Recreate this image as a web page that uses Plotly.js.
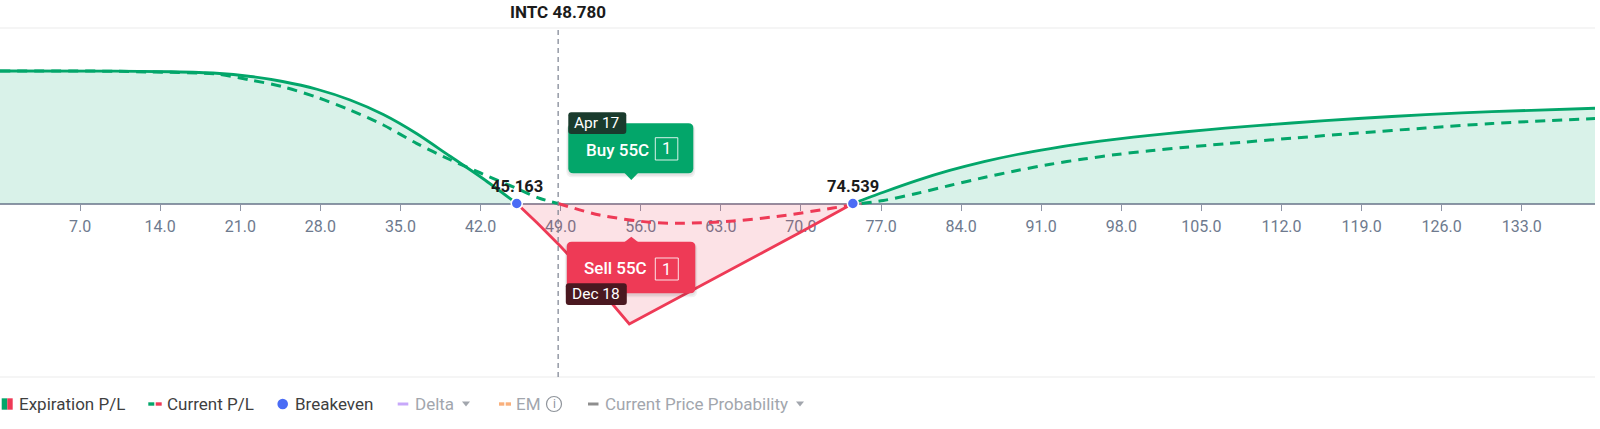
<!DOCTYPE html>
<html>
<head>
<meta charset="utf-8">
<script src="https://cdn.plot.ly/plotly-3.0.1.min.js"></script>
<style>
html,body{margin:0;padding:0;background:#ffffff;}
#chart{width:1600px;height:429px;}
</style>
</head>
<body>
<div id="chart"></div>
<script>
// ---------------- data ----------------
const ticker = 'INTC';
const currentPrice = 48.78;
const tickValues = [7, 14, 21, 28, 35, 42, 49, 56, 63, 70, 77, 84, 91, 98, 105, 112, 119, 126, 133];
const breakevens = [45.163, 74.539];

const legAction = ['Buy', 'Sell'];
const legStrike = [55, 55];
const legType = ['C', 'C'];
const legQty = [1, 1];
const legExpiry = ['Apr 17', 'Dec 18'];

// Expiration P/L (solid)
const expPrice = [0, 10, 15, 18.9, 21.9, 24.7, 27.7, 30.6, 33.5, 36.4, 39.3, 42.2, 45.163,
  47, 49, 52, 55, 60, 65, 70, 74.539,
  77.2, 80.1, 83.0, 86.0, 88.9, 91.8, 94.7, 97.6, 100.5, 103.4, 107.1, 112.9, 118.7, 124.6, 130.4, 139.4];
const expPL = [265, 264.8, 263.5, 260.5, 254, 244, 228.5, 207, 178, 140, 95, 50, 0,
  -40, -86, -160, -241, -180, -118, -57, 0,
  22.6, 45.8, 66.1, 83.8, 98, 109.9, 120.1, 128.8, 136.3, 143, 150.6, 161, 170, 177.7, 183.8, 190.5];

// Current P/L (dashed)
const curPrice = [0, 10, 13.1, 18.9, 21.9, 24.7, 27.7, 30.6, 33.5, 36.4, 39.3, 41.9, 45.163, 47.2, 48.78,
  52.4, 56.8, 59.7, 64.1, 68.4, 72.8, 75.3,
  77.2, 80.1, 83.0, 86.0, 88.9, 91.8, 94.7, 97.6, 100.5, 103.4, 107.1, 112.9, 118.7, 124.6, 130.4, 139.4];
const curPL = [265, 264.5, 263, 259, 247, 233.6, 212.4, 187, 157, 120.4, 88, 62, 30, 10, 0,
  -23, -37.6, -39.6, -35, -24.4, -9, 0,
  6, 20, 36, 52, 66, 78.5, 89, 98, 105.5, 112, 119.5, 130.5, 141, 151, 160, 170];

const xMax = 139.4;
const yRange = [-347, 351];

// ---------------- styles ----------------
const GREEN = '#03a66a';
const RED = '#ee3a56';
const GREEN_FILL = 'rgba(3,166,106,0.15)';
const RED_FILL = 'rgba(238,58,86,0.15)';
const BLUE = '#4a6cf5';
const FONT = 'Roboto, "Noto Sans", Arial, sans-serif';

function splitBySign(xs, ys) {
  const runs = [];
  let cur = null;
  for (let i = 0; i < xs.length; i++) {
    const s = ys[i] > 0 ? 1 : (ys[i] < 0 ? -1 : 0);
    if (s === 0) {
      if (cur) { cur.x.push(xs[i]); cur.y.push(ys[i]); runs.push(cur); }
      cur = {sign: 0, x: [xs[i]], y: [ys[i]]};
    } else {
      if (!cur) cur = {sign: s, x: [], y: []};
      if (cur.sign === 0) cur.sign = s;
      if (cur.sign !== s) { runs.push(cur); cur = {sign: s, x: [], y: []}; }
      cur.x.push(xs[i]); cur.y.push(ys[i]);
    }
  }
  if (cur && cur.x.length > 1) runs.push(cur);
  return runs.filter(r => r.sign !== 0);
}

const traces = [];
splitBySign(expPrice, expPL).forEach(r => {
  traces.push({
    type: 'scatter', mode: 'lines', x: r.x, y: r.y,
    fill: 'tozeroy', fillcolor: r.sign > 0 ? GREEN_FILL : RED_FILL,
    line: {color: r.sign > 0 ? GREEN : RED, width: 2.8,
           shape: r.sign > 0 ? 'spline' : 'linear', smoothing: 0.8},
    hoverinfo: 'skip', showlegend: false
  });
});
splitBySign(curPrice, curPL).forEach(r => {
  traces.push({
    type: 'scatter', mode: 'lines', x: r.x, y: r.y,
    line: {color: r.sign > 0 ? GREEN : RED, width: 3, dash: '10px,7px', shape: 'spline', smoothing: 0.8},
    hoverinfo: 'skip', showlegend: false
  });
});
traces.push({
  type: 'scatter', mode: 'markers', x: breakevens, y: breakevens.map(() => 0),
  marker: {color: BLUE, size: 11, line: {color: '#ffffff', width: 1.5}},
  cliponaxis: false, hoverinfo: 'skip', showlegend: false
});

// rounded rect path (pixel coords, y up)
function rr(x0, y0, x1, y1, r) {
  return `M${x0 + r},${y1} L${x1 - r},${y1} Q${x1},${y1} ${x1},${y1 - r} L${x1},${y0 + r} Q${x1},${y0} ${x1 - r},${y0} ` +
         `L${x0 + r},${y0} Q${x0},${y0} ${x0},${y0 + r} L${x0},${y1 - r} Q${x0},${y1} ${x0 + r},${y1} Z`;
}

const shapes = [];
const annotations = [];

// frame lines
shapes.push({type: 'line', xref: 'paper', yref: 'paper', x0: 0, x1: 1, y0: 1, y1: 1, line: {color: '#ebebeb', width: 1}, layer: 'below'});
shapes.push({type: 'line', xref: 'paper', yref: 'paper', x0: 0, x1: 1, y0: 0, y1: 0, line: {color: '#ebebeb', width: 1}, layer: 'below'});
// current price line
shapes.push({type: 'line', xref: 'x', yref: 'paper', x0: currentPrice, x1: currentPrice, y0: 0, y1: 1,
  line: {color: '#7a8090', width: 1.2, dash: '5px,4px'}, layer: 'above'});

// title
annotations.push({xref: 'x', yref: 'paper', x: currentPrice, y: 1, yshift: 16, xanchor: 'center', yanchor: 'middle',
  showarrow: false, text: ticker + ' ' + currentPrice.toFixed(3),
  font: {family: FONT, size: 17, color: '#1b1b1b', weight: 700}});

// breakeven labels
breakevens.forEach(b => {
  annotations.push({xref: 'x', yref: 'y', x: b, y: 0, yshift: 17.5, xanchor: 'center', yanchor: 'middle',
    showarrow: false, text: b.toFixed(3), font: {family: FONT, size: 16.5, color: '#1b1b1b', weight: 700}});
});

// leg tooltips
function pshape(anchorX, path, fill, line) {
  return {type: 'path', xref: 'x', yref: 'y', xsizemode: 'pixel', ysizemode: 'pixel',
    xanchor: anchorX, yanchor: 0, path: path, fillcolor: fill,
    line: line || {width: 0}, layer: 'above'};
}
function pann(anchorX, dx, dy, text, size, weight) {
  return {xref: 'x', yref: 'y', x: anchorX, y: 0, xshift: dx, yshift: dy, xanchor: 'center', yanchor: 'middle',
    showarrow: false, text: text, font: {family: FONT, size: size, color: '#ffffff', weight: weight || 400}};
}
const tipStyles = [
  {box: [-61, 30.2, 64, 80.2], ptr: 'up', tag: [-61, 69.5, -3, 91.2], tagColor: '#1a3b2d', col: GREEN,
   txt: [-12, 53.5], qbox: [26, 43.5, 48.5, 65.8], qtxt: [37.2, 54.6], tagTxt: [-32, 80.4]},
  {box: [-62.5, -89.8, 66, -38.2], ptr: 'down', tag: [-63.5, -101.5, -2.5, -79.8], tagColor: '#4a1820', col: RED,
   txt: [-13.7, -64.8], qbox: [26, -76.5, 49, -54.5], qtxt: [37.4, -65.5], tagTxt: [-33, -90.6]}
];
legAction.forEach((act, i) => {
  const k = legStrike[i];
  const s = tipStyles[i];
  const b = s.box;
  // shadow
  shapes.push(pshape(k, rr(b[0] - 2, b[1] - 4, b[2] + 2, b[3] - 1, 6), 'rgba(0,0,0,0.05)'));
  shapes.push(pshape(k, rr(b[0] - 1, b[1] - 2.5, b[2] + 1, b[3] - 0.5, 6), 'rgba(0,0,0,0.06)'));
  shapes.push(pshape(k, rr(b[0], b[1], b[2], b[3], 5), s.col));
  if (s.ptr === 'up') {
    shapes.push(pshape(k, `M-5,${b[1] + 0.5} L2,${b[1] - 6.7} L9,${b[1] + 0.5} Z`, s.col));
  } else {
    shapes.push(pshape(k, `M-5,${b[3] - 0.5} L2,${b[3] + 5} L9,${b[3] - 0.5} Z`, s.col));
  }
  const t = s.tag;
  shapes.push(pshape(k, rr(t[0], t[1], t[2], t[3], 3), s.tagColor));
  const q = s.qbox;
  shapes.push(pshape(k, `M${q[0]},${q[1]} L${q[2]},${q[1]} L${q[2]},${q[3]} L${q[0]},${q[3]} Z`, 'rgba(0,0,0,0)',
    {color: 'rgba(255,255,255,0.85)', width: 1}));
  annotations.push(pann(k, s.txt[0], s.txt[1], act + ' ' + k + legType[i], 17, 500));
  annotations.push(pann(k, s.qtxt[0], s.qtxt[1], String(legQty[i]), 16.5, 400));
  annotations.push(pann(k, s.tagTxt[0], s.tagTxt[1], legExpiry[i], 15.5, 400));
});

// custom legend (pixel offsets from plot bottom-left)
const LY = -27;
function lshape(type, x0, x1, y0, y1, fill, extra) {
  return Object.assign({type: type, xref: 'paper', yref: 'paper', xsizemode: 'pixel', ysizemode: 'pixel',
    xanchor: 0, yanchor: 0, x0: x0, x1: x1, y0: y0, y1: y1, fillcolor: fill, line: {width: 0}}, extra || {});
}
function lpath(path, fill) {
  return {type: 'path', xref: 'paper', yref: 'paper', xsizemode: 'pixel', ysizemode: 'pixel',
    xanchor: 0, yanchor: 0, path: path, fillcolor: fill, line: {width: 0}};
}
function ltext(x, text, color) {
  return {xref: 'paper', yref: 'paper', x: 0, y: 0, xshift: x - 2, yshift: LY, xanchor: 'left', yanchor: 'middle',
    showarrow: false, text: text, font: {family: FONT, size: 17, color: color}};
}
const ACTIVE = '#3f3f3f';
const INACTIVE = '#a2a6ad';
const legendLabels = ['Expiration P/L', 'Current P/L', 'Breakeven', 'Delta', 'EM', 'Current Price Probability'];
// Expiration P/L icon
shapes.push(lshape('rect', 1.7, 7.3, LY - 5.7, LY + 5.7, GREEN));
shapes.push(lshape('rect', 7.3, 12.7, LY - 5.7, LY + 5.7, RED));
annotations.push(ltext(19.3, legendLabels[0], ACTIVE));
// Current P/L icon
shapes.push(lshape('rect', 148.3, 154.3, LY - 1.7, LY + 1.7, GREEN));
shapes.push(lshape('rect', 155.7, 161.7, LY - 1.7, LY + 1.7, RED));
annotations.push(ltext(166.7, legendLabels[1], ACTIVE));
// Breakeven
shapes.push(lshape('circle', 277.4, 288, LY - 5.3, LY + 5.3, BLUE));
annotations.push(ltext(295, legendLabels[2], ACTIVE));
// Delta
shapes.push(lshape('rect', 397.7, 408.3, LY - 1.5, LY + 1.5, '#c7a8fa'));
annotations.push(ltext(415, legendLabels[3], INACTIVE));
shapes.push(lpath(`M462,${LY + 2.5} L470,${LY + 2.5} L466,${LY - 2.5} Z`, INACTIVE));
// EM
shapes.push(lshape('rect', 499, 504.3, LY - 1.7, LY + 1.7, '#f9b07c'));
shapes.push(lshape('rect', 505.7, 511, LY - 1.7, LY + 1.7, '#f9b07c'));
annotations.push(ltext(516, legendLabels[4], INACTIVE));
shapes.push(lshape('circle', 546.5, 561.5, LY - 7.5, LY + 7.5, 'rgba(0,0,0,0)', {line: {color: '#8f949b', width: 1.2}}));
annotations.push({xref: 'paper', yref: 'paper', x: 0, y: 0, xshift: 554, yshift: LY, xanchor: 'center', yanchor: 'middle',
  showarrow: false, text: 'i', font: {family: FONT, size: 12, color: '#8f949b'}});
// Current Price Probability
shapes.push(lshape('rect', 588, 598.5, LY - 1.5, LY + 1.5, '#8e8e8e'));
annotations.push(ltext(605, legendLabels[5], INACTIVE));
shapes.push(lpath(`M796,${LY + 2.5} L804,${LY + 2.5} L800,${LY - 2.5} Z`, INACTIVE));

// x axis sits at y = 0
const zeroPos = (0 - yRange[0]) / (yRange[1] - yRange[0]);

const layout = {
  width: 1600, height: 429,
  margin: {l: 0, r: 5, t: 28, b: 52, pad: 0},
  paper_bgcolor: '#ffffff', plot_bgcolor: '#ffffff',
  showlegend: false,
  hovermode: false,
  xaxis: {
    range: [0, xMax], anchor: 'free', position: zeroPos,
    tickvals: tickValues, tickformat: '.1f',
    showgrid: false, zeroline: false,
    showline: true, linecolor: '#8e95a6', linewidth: 2,
    ticks: 'outside', ticklen: 6, tickwidth: 1, tickcolor: '#8e95a6',
    ticklabelstandoff: 2,
    tickfont: {family: FONT, size: 16, color: '#6e7a8e'},
    layer: 'below traces', fixedrange: true
  },
  yaxis: {
    range: yRange, domain: [0, 1], visible: false, showgrid: false, zeroline: false, fixedrange: true
  },
  shapes: shapes,
  annotations: annotations
};

Plotly.newPlot('chart', traces, layout, {displayModeBar: false, staticPlot: true});
</script>
</body>
</html>
